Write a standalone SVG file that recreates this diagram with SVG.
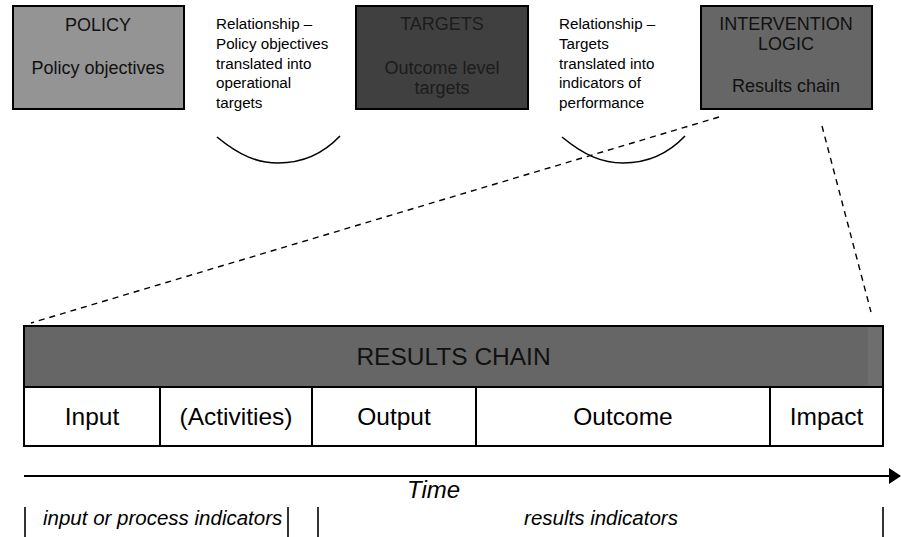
<svg xmlns="http://www.w3.org/2000/svg" width="901" height="537" viewBox="0 0 901 537">
  <style>
    text { font-family: "Liberation Sans", Arial, sans-serif; fill: #000; }
    .box { stroke: #000; stroke-width: 2; }
    .bt { font-size: 18px; text-anchor: middle; fill: #111; }
    .dk { fill: #1c1c1c; }
    .rel { font-size: 15.2px; }
    .cell { font-size: 24.5px; text-anchor: middle; }
    .it { font-style: italic; font-size: 20.5px; }
    .dash { fill: none; stroke: #000; stroke-width: 1.4; stroke-dasharray: 6 5; }
    .arc { fill: none; stroke: #000; stroke-width: 1.6; }
    .bar { stroke: #000; stroke-width: 1.6; }
    .grid { stroke: #000; stroke-width: 2; }
  </style>
  <defs>
    <marker id="arrow" markerWidth="12" markerHeight="16" refX="11" refY="8" orient="auto" markerUnits="userSpaceOnUse">
      <path d="M0,0 L12,8 L0,16 Z" fill="#000"/>
    </marker>
  </defs>
  <rect width="901" height="537" fill="#fff"/>

  <g id="policy">
    <rect class="box" x="13" y="6" width="171" height="103" fill="#949494"/>
    <text class="bt" x="98" y="31">POLICY</text>
    <text class="bt" x="98" y="74">Policy objectives</text>
  </g>

  <g id="relationship1">
    <text class="rel" x="216" y="29">Relationship –</text>
    <text class="rel" x="216" y="49">Policy objectives</text>
    <text class="rel" x="216" y="69">translated into</text>
    <text class="rel" x="216" y="88">operational</text>
    <text class="rel" x="216" y="108">targets</text>
  </g>

  <g id="targets">
    <rect class="box" x="356" y="6" width="172" height="103" fill="#404040"/>
    <text class="bt dk" x="442" y="30">TARGETS</text>
    <text class="bt dk" x="442" y="73.5">Outcome level</text>
    <text class="bt dk" x="442" y="94">targets</text>
  </g>

  <g id="relationship2">
    <text class="rel" x="559" y="29">Relationship –</text>
    <text class="rel" x="559" y="49">Targets</text>
    <text class="rel" x="559" y="69">translated into</text>
    <text class="rel" x="559" y="88">indicators of</text>
    <text class="rel" x="559" y="108">performance</text>
  </g>

  <g id="intervention">
    <rect class="box" x="701" y="6" width="171" height="103" fill="#666666"/>
    <text class="bt" x="786" y="30">INTERVENTION</text>
    <text class="bt" x="786" y="50">LOGIC</text>
    <text class="bt" x="786" y="92">Results chain</text>
  </g>

  <g id="connectors">
    <path class="arc" d="M217,137 C240,156 258,163 278,163 C300,163 322,155 340,136"/>
    <path class="arc" d="M562,137 C585,156 603,163 623,163 C645,163 667,155 685,136"/>
    <line class="dash" x1="719" y1="117" x2="31" y2="323"/>
    <line class="dash" x1="822" y1="126" x2="871" y2="312"/>
    <line x1="24" y1="476" x2="900" y2="476" stroke="#000" stroke-width="2" marker-end="url(#arrow)"/>
    <line class="bar" x1="25" y1="507" x2="25" y2="537"/>
    <line class="bar" x1="288" y1="507" x2="288" y2="537"/>
    <line class="bar" x1="318" y1="507" x2="318" y2="537"/>
    <line class="bar" x1="883" y1="507" x2="883" y2="537"/>
  </g>

  <g id="results-chain">
    <rect x="24" y="326" width="859" height="61" fill="#666666"/>
    <rect x="868" y="327" width="14" height="59" fill="#6e6e6e"/>
    <rect x="24" y="387" width="859" height="59" fill="#fff"/>
    <rect x="24" y="326" width="859" height="120" fill="none" class="grid"/>
    <line class="grid" x1="24" y1="387" x2="883" y2="387"/>
    <line class="grid" x1="160" y1="387" x2="160" y2="446"/>
    <line class="grid" x1="312" y1="387" x2="312" y2="446"/>
    <line class="grid" x1="476" y1="387" x2="476" y2="446"/>
    <line class="grid" x1="770" y1="387" x2="770" y2="446"/>
    <text class="cell" x="453.5" y="365" style="fill:#111">RESULTS CHAIN</text>
    <text class="cell" x="92" y="425">Input</text>
    <text class="cell" x="236" y="425">(Activities)</text>
    <text class="cell" x="394" y="425">Output</text>
    <text class="cell" x="623" y="425">Outcome</text>
    <text class="cell" x="826.5" y="425">Impact</text>
  </g>

  <g id="time-labels">
    <text class="it" x="407" y="498" style="font-size:24px">Time</text>
    <text class="it" x="43" y="525">input or process indicators</text>
    <text class="it" x="601" y="525" text-anchor="middle">results indicators</text>
  </g>
</svg>
